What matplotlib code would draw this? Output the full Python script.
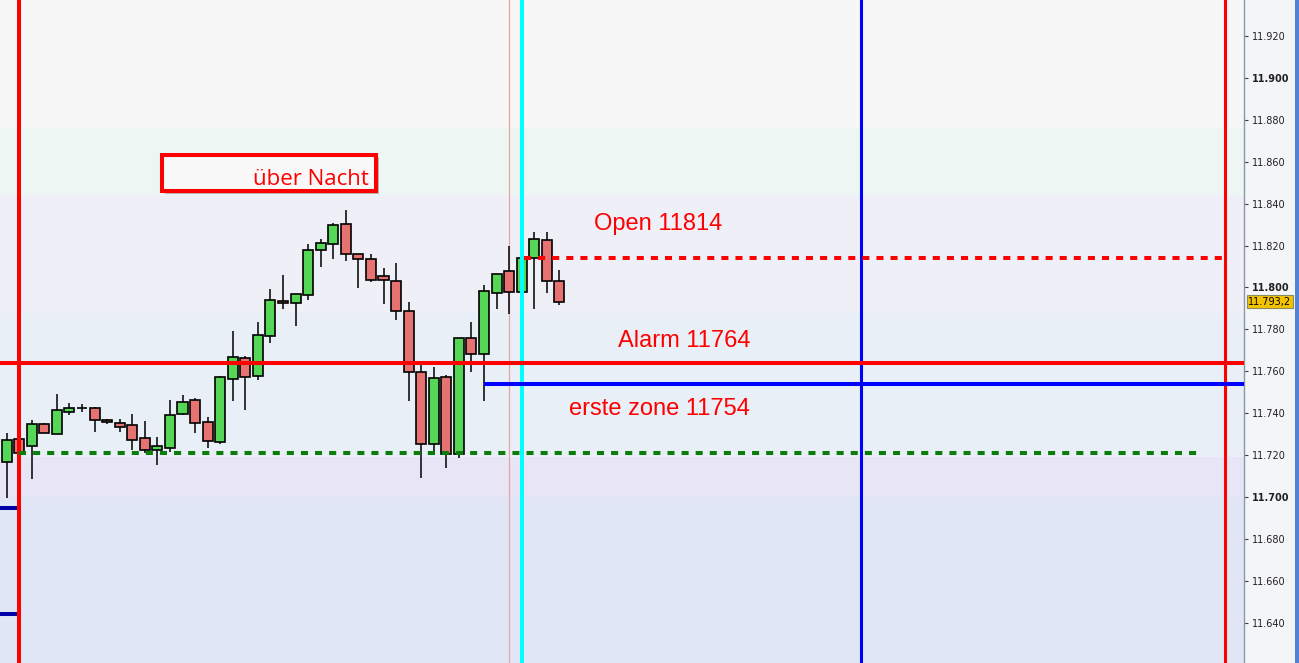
import matplotlib.pyplot as plt
import matplotlib.patheffects as pe
import numpy as np
from matplotlib.patches import Rectangle

# candle data (index 0 = first bar on screen)
opens = [11716.5, 11727.5, 11724.2, 11734.7, 11729.9, 11740.4, 11742.3, 11742.3,
         11736.6, 11735.1, 11734.2, 11728.0, 11722.2, 11723.2, 11739.7, 11746.1,
         11735.6, 11726.1, 11756.1, 11766.2, 11757.6, 11776.7, 11793.4, 11792.4,
         11796.2, 11817.7, 11820.6, 11830.1, 11815.8, 11813.4, 11805.3, 11802.9,
         11788.6, 11759.5, 11725.1, 11757.1, 11720.3, 11775.7, 11768.1, 11797.2,
         11807.7, 11797.7, 11813.9, 11822.5, 11802.9]
highs = [11730.6, 11729.5, 11736.6, 11735.4, 11749.1, 11744.8, 11744.3, 11743.0,
         11737.3, 11737.3, 11739.7, 11736.2, 11728.6, 11746.3, 11748.6, 11747.2,
         11738.1, 11757.9, 11779.2, 11767.3, 11783.5, 11799.2, 11805.9, 11796.7,
         11820.6, 11822.9, 11830.7, 11836.9, 11815.8, 11815.8, 11809.1, 11811.6,
         11792.9, 11763.8, 11761.9, 11758.3, 11775.7, 11783.5, 11801.1, 11806.3,
         11819.6, 11815.0, 11826.3, 11826.3, 11808.2]
lows = [11699.6, 11719.0, 11708.4, 11730.4, 11729.9, 11739.2, 11740.7, 11731.1,
        11734.7, 11731.1, 11722.4, 11720.8, 11715.4, 11721.3, 11739.2, 11730.6,
        11723.5, 11725.4, 11745.9, 11741.6, 11755.9, 11773.6, 11789.8, 11781.7,
        11793.8, 11809.9, 11813.7, 11812.7, 11799.9, 11802.7, 11792.2, 11784.3,
        11745.9, 11709.2, 11720.0, 11714.0, 11718.7, 11759.8, 11745.9, 11789.6,
        11787.1, 11796.0, 11789.6, 11797.2, 11791.5]
closes = [11727.0, 11720.8, 11734.7, 11730.4, 11741.3, 11742.3, 11742.3, 11736.6,
          11735.7, 11733.2, 11727.0, 11722.2, 11724.2, 11738.9, 11745.2, 11735.1,
          11726.5, 11757.1, 11766.6, 11757.1, 11777.1, 11793.8, 11792.4, 11796.7,
          11817.7, 11821.0, 11829.6, 11815.8, 11813.4, 11803.4, 11803.4, 11788.6,
          11759.5, 11725.1, 11756.6, 11720.3, 11775.7, 11768.1, 11798.1, 11806.3,
          11797.7, 11813.9, 11822.9, 11802.9, 11793.2]

# background zones (bottom to top)
zone_edges = [11600, 11700, 11719, 11788, 11844, 11876, 11950]
zone_colors = ["#e0e6f5", "#e8e6f6", "#e8eff7", "#efeff8", "#eef6f4", "#f7f7f7"]

# drawn levels
alarm_level = 11764
zone_level = 11754
open_level = 11814
green_level = 11721
old_blue_levels = [11694.7, 11644.1]
last_price = 11793.2

x_min, x_max = -0.53, 98.5
y_min, y_max = 11620.7, 11937.2

fig = plt.figure(figsize=(12.99, 6.63), dpi=100, facecolor="#f4f5f9")
ax = fig.add_axes([0, 0, 1244 / 1299, 1])
ax.set_xlim(x_min, x_max)
ax.set_ylim(y_min, y_max)

for lo, hi, col in zip(zone_edges[:-1], zone_edges[1:], zone_colors):
    ax.axhspan(lo, hi, color=col, lw=0, zorder=0)

# thin marker line behind the candles
ax.axvline(40, color="#e8a3a3", lw=0.9, zorder=1)

# candles
x = np.arange(len(opens))
o = np.array(opens)
c = np.array(closes)
up = c >= o
ax.vlines(x, lows, highs, color="black", lw=1.1, zorder=2)
ax.bar(x, np.abs(c - o), bottom=np.minimum(o, c), width=0.8,
       color=np.where(up, "#56d656", "#e67272"), edgecolor="black",
       linewidth=1.2, zorder=3)

# vertical session lines
ax.axvline(1, color="#ff0000", lw=2.9, zorder=5)
ax.axvline(41, color="#00ffff", lw=2.9, zorder=5)
ax.axvline(68, color="#0000ff", lw=2.2, zorder=5)
ax.axvline(97, color="#ff0000", lw=2.2, zorder=5)

# horizontal levels
ax.axhline(alarm_level, color="#ff0000", lw=2.9, zorder=5)
ax.hlines(zone_level, 38, x_max, color="#0000ff", lw=2.9, zorder=5)
ax.hlines(open_level, 41.2, 96.8, color="#ff0000", lw=2.9,
          linestyles=(0, (1.75, 1.75)), zorder=5)
ax.hlines(green_level, 1, 94.9, color="#0b7d0b", lw=2.9,
          linestyles=(0, (1.75, 1.75)), zorder=5)
for lvl in old_blue_levels:
    ax.hlines(lvl, x_min, 1, color="#0000a8", lw=2.9, zorder=4)

# labels
txt = dict(color="#ff0000", fontsize=17, family="Liberation Sans", zorder=6)
ax.text(51.9, 11827.4, "Open 11814", ha="center", va="baseline", **txt)
ax.text(59.2, 11771.7, "Alarm 11764", ha="right", va="baseline", **txt)
ax.text(59.2, 11739.1, "erste zone 11754", ha="right", va="baseline", **txt)

box = Rectangle((12.4, 11845.8), 17.0, 17.6, facecolor="#f8f8f8",
                edgecolor="#ff0000", lw=2.9, zorder=6)
box.set_path_effects([pe.SimplePatchShadow(offset=(2, -2), alpha=0.35),
                      pe.Normal()])
ax.add_patch(box)
ax.text(28.85, 11848.9, "über Nacht", ha="right", va="baseline",
        color="#ff0000", fontsize=16, family="Open Sans", zorder=7)

# price axis on the right
ax.yaxis.tick_right()
ticks = np.arange(11640, 11921, 20)
ax.set_yticks(ticks)
ax.set_yticklabels([f"{t:,.0f}".replace(",", ".") for t in ticks])
for t, lab in zip(ticks, ax.get_yticklabels()):
    if t % 100 == 0:
        lab.set_fontweight("bold")
ax.tick_params(axis="y", direction="out", length=3, width=0.8, color="#404040",
               labelsize=7, pad=3, labelcolor="#202020")
ax.set_xticks([])
for side in ("top", "left", "bottom"):
    ax.spines[side].set_visible(False)
ax.spines["right"].set_color("#8a98a8")
ax.spines["right"].set_linewidth(1)

ax.text(1.0035, last_price, f"{last_price:,.1f}".replace(",", " ").replace(".", ",").replace(" ", "."),
        transform=ax.get_yaxis_transform(), ha="left", va="center",
        fontsize=7, color="black", clip_on=False, zorder=8,
        bbox=dict(boxstyle="square,pad=0.15", facecolor="#f3c300",
                  edgecolor="#8a8a60", lw=0.8))

fig.add_artist(Rectangle((1295 / 1299, 0), 4 / 1299, 1, transform=fig.transFigure,
                         facecolor="#5083d4", edgecolor="none"))

fig.savefig("out.png", dpi=100)
